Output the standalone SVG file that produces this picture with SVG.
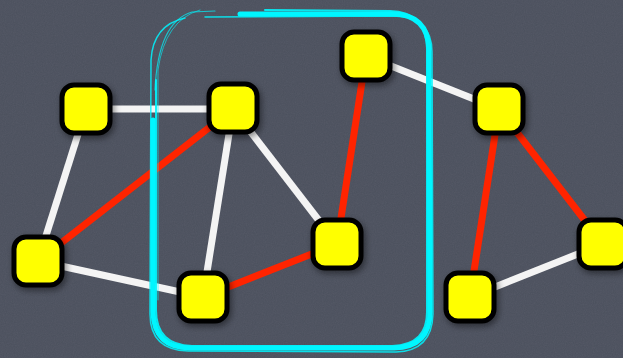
<svg xmlns="http://www.w3.org/2000/svg" width="623" height="358" viewBox="0 0 623 358">
  <style>
    .edge { stroke-width: 7; stroke-linecap: butt; fill: none; }
    .white { stroke: #f4f4f4; }
    .red { stroke: #ff2400; }
    .node rect { fill: #ffff00; stroke: #000; stroke-width: 5; }
    .lasso { fill: none; stroke: #00f6ff; stroke-linecap: round; }
  </style>
  <defs>
    <filter id="grain" x="0" y="0" width="100%" height="100%">
      <feTurbulence type="fractalNoise" baseFrequency="0.9" numOctaves="2" seed="4" result="noise"/>
      <feColorMatrix type="matrix" values="0 0 0 0 0.36  0 0 0 0 0.38  0 0 0 0 0.43  0 0 0 0.12 0" />
      <feComposite in2="SourceGraphic" operator="in"/>
    </filter>
    <filter id="shadow" x="-30%" y="-30%" width="160%" height="160%">
      <feDropShadow dx="2" dy="3" stdDeviation="3" flood-color="#000" flood-opacity="0.45"/>
    </filter>
  </defs>

  <!-- slate board background -->
  <rect width="623" height="358" fill="#4a4f5c"/>
  <rect width="623" height="358" fill="#fff" filter="url(#grain)"/>

  <!-- connectors -->
  <g id="connectors">
    <line class="edge white" x1="86" y1="109" x2="233" y2="109"/>
    <line class="edge white" x1="86" y1="109" x2="38" y2="261"/>
    <line class="edge white" x1="38" y1="261" x2="203" y2="297"/>
    <line class="edge white" x1="233" y1="109" x2="203" y2="297"/>
    <line class="edge white" x1="233" y1="109" x2="337" y2="244"/>
    <line class="edge white" x1="366" y1="56" x2="499" y2="109"/>
    <line class="edge white" x1="470" y1="297" x2="603" y2="244"/>
    <line class="edge red" x1="38" y1="261" x2="233" y2="109"/>
    <line class="edge red" x1="203" y1="297" x2="337" y2="244"/>
    <line class="edge red" x1="337" y1="244" x2="366" y2="56"/>
    <line class="edge red" x1="499" y1="109" x2="470" y2="297"/>
    <line class="edge red" x1="499" y1="109" x2="603" y2="244"/>
  </g>

  <!-- nodes: 48px rounded squares centred on each vertex -->
  <g id="node-a" class="node" filter="url(#shadow)"><rect x="62" y="85" width="48" height="48" rx="12"/></g>
  <g id="node-b" class="node" filter="url(#shadow)"><rect x="209" y="84" width="48" height="48" rx="12"/></g>
  <g id="node-c" class="node" filter="url(#shadow)"><rect x="342" y="32" width="48" height="48" rx="12"/></g>
  <g id="node-d" class="node" filter="url(#shadow)"><rect x="475" y="85" width="48" height="48" rx="12"/></g>
  <g id="node-e" class="node" filter="url(#shadow)"><rect x="14" y="237" width="48" height="48" rx="12"/></g>
  <g id="node-f" class="node" filter="url(#shadow)"><rect x="179" y="273" width="48" height="48" rx="12"/></g>
  <g id="node-g" class="node" filter="url(#shadow)"><rect x="313" y="220" width="48" height="48" rx="12"/></g>
  <g id="node-h" class="node" filter="url(#shadow)"><rect x="446" y="273" width="48" height="48" rx="12"/></g>
  <g id="node-i" class="node" filter="url(#shadow)"><rect x="579" y="220" width="48" height="48" rx="12"/></g>

  <!-- hand-drawn selection outline -->
  <g id="selection">
    <path class="lasso" stroke-width="5" d="M240 14 L392 14 Q428 14 429 50 L430 312 Q430 347 394 348 L190 348 Q154 348 153 312 L153 120"/>
    <path class="lasso" stroke-width="2" opacity="0.9" d="M265 10 L390 11 Q426 12 427 48 L427 310 Q428 345 392 346 L192 346 Q156 345 156 310 L156 80"/>
    <path class="lasso" stroke-width="1.5" opacity="0.85" d="M205 17 L394 16 Q432 17 432 52 L433 314 Q432 351 396 352 L188 351 Q150 350 150 314 L151 60 Q153 25 185 18"/>
    <path class="lasso" stroke-width="1.2" opacity="0.7" d="M155 90 Q158 22 192 12 L215 11"/>
    <path class="lasso" stroke-width="1" opacity="0.6" d="M158 300 L158 70 Q165 20 200 10"/>
  </g>
</svg>
